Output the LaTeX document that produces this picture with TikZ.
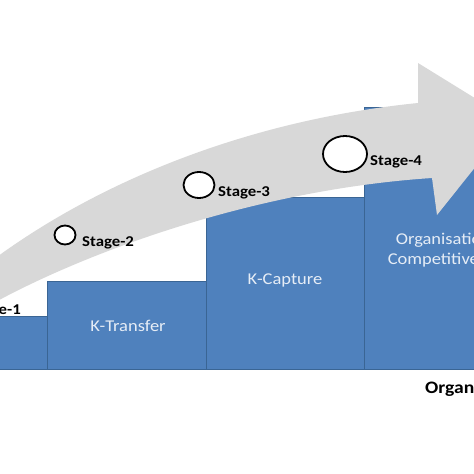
\documentclass[tikz,border=0pt]{standalone}
\usepackage{fontspec}
\usetikzlibrary{shapes.geometric}
\setmainfont{Carlito}[FakeStretch=1.12]
\definecolor{barblue}{HTML}{4F81BD}
\definecolor{bardark}{HTML}{3A6594}
\definecolor{arrowgray}{HTML}{D8D8D8}
\definecolor{bartext}{HTML}{E6EDF6}
\begin{document}
\begin{tikzpicture}[x=1pt,y=-1pt,
  bar/.style={fill=barblue,draw=bardark,line width=1pt},
  bartxt/.style={text=bartext,font=\fontsize{16.5}{20}\selectfont,align=center,inner sep=0pt},
  stagecirc/.style={draw=black,fill=white,line width=1.8pt,ellipse,inner sep=0pt},
  stagetxt/.style={font=\bfseries\fontsize{15}{18}\selectfont,inner sep=0pt,anchor=west}]
\useasboundingbox (0,0) rectangle (474,474);
\clip (0,0) rectangle (474,474);
\fill[white] (0,0) rectangle (474,474);
% bars
\draw[bar] (-10,316) rectangle (47,369);
\draw[bar] (47,281) rectangle (206,369);
\draw[bar] (206,197) rectangle (364,369);
\draw[bar] (364,107) rectangle (540,369);
% arrow
\fill[arrowgray] (-10,262) .. controls (100,180) and (250,120) .. (418,103)
  -- (418,63) -- (512,121) -- (437,215) -- (432,178)
  .. controls (250,190) and (80,255) .. (-10,305) -- cycle;
% bar labels
\node[bartxt] (kt) at (128,326) {K-Transfer};
\node[bartxt] (kc) at (285,280) {K-Capture};
\node[bartxt] (oc) at (450,250) {Organisational\\Competitiveness};
% stages
\node[stagecirc,minimum width=21pt,minimum height=19pt] (c2) at (65,235) {};
\node[stagecirc,minimum width=31pt,minimum height=26pt] (c3) at (199,185) {};
\node[stagecirc,minimum width=44pt,minimum height=36pt] (c4) at (345,154) {};
\node[stagetxt,anchor=east] (s1) at (21,311) {Stage-1};
\node[stagetxt] (s2) at (82,243) {Stage-2};
\node[stagetxt] (s3) at (218,193) {Stage-3};
\node[stagetxt] (s4) at (370,162) {Stage-4};
% axis label
\node[font=\bfseries\fontsize{17.5}{20}\selectfont,anchor=west,inner sep=0pt] (ax) at (425,389) {Organisational};
\end{tikzpicture}
\end{document}
